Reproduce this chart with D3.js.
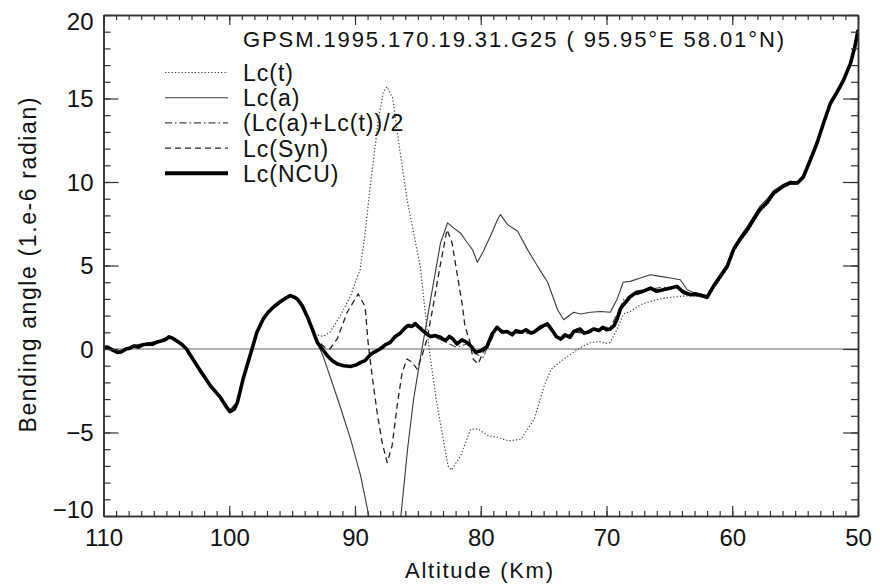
<!DOCTYPE html>
<html><head><meta charset="utf-8">
<script src="https://cdn.jsdelivr.net/npm/d3@7"></script>
<style>
body{margin:0;background:#fff}
text{font-family:"Liberation Sans",Arial,Helvetica,sans-serif;fill:#111}
</style>
</head><body>
<svg id="chart" width="880" height="586"></svg>
<script>
// ---------------- data ----------------
const xTicks = [110, 100, 90, 80, 70, 60, 50];
const yTicks = [-10, -5, 0, 5, 10, 15, 20];
const seriesNames = ["Lc(t)", "Lc(a)", "(Lc(a)+Lc(t))/2", "Lc(Syn)", "Lc(NCU)"];
const titleText = "GPSM.1995.170.19.31.G25 ( 95.95\u00B0E 58.01\u00B0N)";

// [altitude km, bending angle 1e-6 rad]
const lcT = [[110,0.05],[109.3,-0.1],[108.9,-0.25],[108.2,-0.05],[107.6,0.12],[106.5,0.25],[105.5,0.4],[104.8,0.75],[104.2,0.45],[103.4,-0.05],[102.9,-0.65],[102.3,-1.35],[101.5,-2.25],[100.7,-2.95],[99.95,-3.8],[99.35,-3.25],[98.9,-1.85],[98.35,-0.45],[97.8,0.95],[97.3,1.75],[96.5,2.45],[96.0,2.75],[95.15,3.15],[94.6,2.95],[93.8,1.9],[93.2,0.9],[92.55,0.75],[92.0,1.0],[91.2,1.95],[90.4,3.1],[89.6,4.75],[89.2,6.9],[88.9,9.0],[88.5,11.5],[88.15,13.7],[87.75,15.4],[87.45,15.7],[87.0,15.0],[86.55,12.5],[85.85,8.9],[84.8,4.9],[84.1,0.0],[83.55,-3.0],[82.6,-7.0],[82.35,-7.25],[81.6,-6.4],[80.8,-4.8],[80.2,-4.8],[79.4,-5.2],[78.6,-5.3],[77.8,-5.5],[76.8,-5.4],[75.75,-4.2],[74.95,-2.2],[74.4,-1.2],[73.4,-0.6],[72.25,0.0],[71.8,0.2],[71.2,0.4],[70.5,0.45],[70.0,0.35],[69.7,0.4],[69.15,1.2],[68.65,2.1],[68.1,2.25],[67.3,2.65],[66.5,2.85],[65.7,3.0],[64.9,3.1],[64.1,3.15],[63.3,3.2],[62.5,3.15],[62.0,3.0],[61.5,3.6],[60.95,4.2],[60.4,4.8],[59.9,5.8],[59.4,6.4],[58.8,7.0],[58.3,7.6],[57.8,8.2],[57.2,8.65],[56.7,9.2],[55.95,9.65],[55.4,9.85],[54.8,9.9],[54.35,10.2],[53.8,11.2],[53.25,12.25],[52.75,13.4],[52.2,14.6],[51.65,15.3],[51.15,16.0],[50.6,17.0],[50.0,19.0]];

const lcA = [[110,0.15],[109.3,0.0],[108.9,-0.15],[108.2,0.05],[107.6,0.22],[106.5,0.35],[105.5,0.5],[104.8,0.8],[104.2,0.55],[103.4,0.05],[102.9,-0.55],[102.3,-1.25],[101.5,-2.15],[100.7,-2.85],[99.95,-3.65],[99.35,-3.15],[98.9,-1.75],[98.35,-0.35],[97.8,1.05],[97.3,1.85],[96.5,2.55],[96.0,2.85],[95.15,3.25],[94.6,3.05],[93.8,2.0],[93.2,0.7],[92.55,-0.4],[92.0,-1.6],[91.2,-3.4],[90.35,-5.4],[89.55,-7.6],[88.9,-10.0],[88.3,-12.0],[87.7,-13.0],[87.0,-12.0],[86.35,-10.0],[85.82,-6.0],[85.34,-3.0],[84.77,-0.4],[84.22,1.95],[83.75,4.0],[83.2,6.35],[82.64,7.55],[82.17,7.25],[81.62,6.95],[81.05,6.35],[80.66,5.95],[80.27,5.2],[79.79,5.85],[79.24,6.75],[78.66,7.75],[78.43,8.05],[77.87,7.45],[77.07,7.05],[76.28,5.95],[75.48,4.95],[74.68,4.0],[73.89,2.35],[73.41,1.75],[72.61,2.2],[72.06,2.1],[71.27,2.2],[70.48,2.25],[69.7,2.2],[69.15,3.0],[68.67,4.0],[68.11,4.05],[67.32,4.25],[66.52,4.45],[65.72,4.35],[64.93,4.25],[64.13,4.15],[63.58,3.55],[63.0,3.35],[62.5,3.3],[62.0,3.2],[61.5,3.85],[60.95,4.45],[60.4,5.1],[59.9,6.1],[59.4,6.7],[58.8,7.35],[58.3,7.95],[57.8,8.55],[57.2,9.0],[56.7,9.5],[55.95,9.85],[55.4,10.05],[54.8,10.0],[54.35,10.4],[53.8,11.4],[53.25,12.45],[52.75,13.6],[52.2,14.8],[51.65,15.5],[51.15,16.2],[50.6,17.2],[50.0,19.2]];

const lcAvg = [[110,0.1],[109.3,-0.05],[108.9,-0.2],[108.2,0.0],[107.6,0.17],[106.5,0.3],[105.5,0.45],[104.8,0.75],[104.2,0.5],[103.4,0.0],[102.9,-0.6],[102.3,-1.3],[101.5,-2.2],[100.7,-2.9],[99.95,-3.72],[99.35,-3.2],[98.9,-1.8],[98.35,-0.4],[97.8,1.0],[97.3,1.8],[96.5,2.5],[96.0,2.8],[95.15,3.2],[94.6,3.0],[93.8,1.95],[93.0,0.4],[92.2,-0.45],[91.4,-0.85],[90.35,-1.1],[89.55,-0.85],[88.8,-0.4],[88.0,-0.05],[87.2,0.35],[86.4,0.9],[85.8,1.45],[85.2,1.6],[84.55,1.2],[84.0,0.8],[83.2,0.55],[82.5,0.3],[81.9,0.1],[81.1,0.3],[80.4,-0.3],[79.8,-0.5],[79.5,0.05],[78.7,1.2],[77.9,0.95],[76.8,0.95],[75.8,0.95],[74.7,1.45],[73.65,0.55],[72.6,1.0],[71.5,1.05],[70.3,1.3],[69.7,1.3],[69.15,2.1],[68.65,2.95],[68.1,3.2],[67.1,3.5],[66.5,3.6],[65.5,3.7],[64.4,3.7],[63.3,3.3],[62.5,3.2],[62.0,3.1],[61.5,3.75],[60.95,4.35],[60.4,4.95],[59.9,5.95],[59.4,6.55],[58.8,7.2],[58.3,7.8],[57.8,8.4],[57.2,8.85],[56.7,9.35],[55.95,9.75],[55.4,9.95],[54.8,9.95],[54.35,10.3],[53.8,11.3],[53.25,12.35],[52.75,13.5],[52.2,14.7],[51.65,15.4],[51.15,16.1],[50.6,17.1],[50.0,19.1]];

const lcSyn = [[110,0.1],[109.3,-0.05],[108.9,-0.2],[108.2,0.0],[107.6,0.17],[106.5,0.3],[105.5,0.45],[104.8,0.7],[104.2,0.5],[103.4,0.0],[102.9,-0.6],[102.3,-1.3],[101.5,-2.2],[100.7,-2.9],[99.95,-3.72],[99.35,-3.2],[98.9,-1.8],[98.35,-0.4],[97.8,1.0],[97.3,1.8],[96.5,2.5],[96.0,2.8],[95.15,3.2],[94.6,3.0],[93.8,1.95],[93.0,0.5],[92.4,0.1],[92.0,0.0],[91.42,0.6],[90.62,2.2],[89.75,3.3],[89.2,2.55],[88.96,0.4],[88.64,-1.6],[88.24,-3.8],[87.84,-5.6],[87.44,-6.8],[87.05,-5.8],[86.65,-3.4],[86.25,-1.4],[85.86,-0.6],[85.46,-0.8],[85.06,-1.2],[84.67,-0.4],[84.27,0.6],[83.79,2.55],[83.24,4.95],[82.68,7.15],[82.28,6.35],[81.89,4.55],[81.49,2.75],[81.25,1.35],[80.85,0.4],[80.61,-0.6],[80.21,-0.9],[79.82,-0.2],[79.5,0.1],[79.1,0.85],[78.7,1.25],[77.9,1.0],[76.8,0.95],[75.8,0.95],[74.7,1.45],[73.65,0.55],[72.6,1.0],[71.5,0.95],[70.3,1.25],[69.7,1.15],[69.15,1.75],[68.65,2.6],[68.1,3.1],[67.1,3.4],[66.5,3.6],[65.5,3.5],[64.4,3.7],[63.3,3.2],[62.5,3.15],[62.0,3.05],[61.5,3.7],[60.95,4.3],[60.4,4.9],[59.9,5.9],[59.4,6.5],[58.8,7.1],[58.3,7.7],[57.8,8.3],[57.2,8.75],[56.7,9.3],[55.95,9.7],[55.4,9.9],[54.8,9.9],[54.35,10.25],[53.8,11.25],[53.25,12.3],[52.75,13.45],[52.2,14.65],[51.65,15.35],[51.15,16.05],[50.6,17.05],[50.0,19.05]];

const lcNCU = [[110,0.1],[109.7,0.12],[109.3,-0.05],[108.9,-0.2],[108.6,-0.18],[108.2,0.0],[107.9,0.05],[107.6,0.18],[107.2,0.12],[106.9,0.25],[106.5,0.3],[106.1,0.28],[105.8,0.4],[105.5,0.46],[105.1,0.55],[104.8,0.72],[104.5,0.65],[104.2,0.5],[103.8,0.3],[103.4,0.0],[102.9,-0.6],[102.3,-1.3],[101.5,-2.2],[100.7,-2.9],[100.2,-3.5],[99.95,-3.75],[99.6,-3.6],[99.35,-3.2],[98.9,-1.8],[98.35,-0.4],[97.8,1.0],[97.3,1.8],[96.9,2.2],[96.5,2.5],[96.0,2.8],[95.5,3.05],[95.15,3.2],[94.8,3.1],[94.6,3.0],[94.2,2.6],[93.8,1.95],[93.4,1.2],[93.0,0.4],[92.6,0.0],[92.2,-0.4],[91.8,-0.7],[91.4,-0.9],[90.9,-1.0],[90.35,-1.05],[89.9,-0.95],[89.55,-0.8],[89.2,-0.7],[88.8,-0.35],[88.5,-0.2],[88.0,0.0],[87.6,0.25],[87.2,0.4],[86.8,0.75],[86.4,0.95],[86.1,1.2],[85.8,1.4],[85.5,1.35],[85.2,1.5],[84.9,1.3],[84.55,1.05],[84.3,0.9],[84.0,0.75],[83.6,0.8],[83.2,0.7],[82.8,0.5],[82.5,0.75],[82.2,0.6],[81.9,0.3],[81.5,0.55],[81.1,0.4],[80.7,0.1],[80.4,-0.2],[80.0,-0.1],[79.5,0.15],[79.1,0.9],[78.7,1.3],[78.3,1.0],[77.9,1.05],[77.5,0.85],[77.2,1.1],[76.8,1.0],[76.4,1.15],[76.0,0.95],[75.8,1.0],[75.3,1.3],[74.7,1.5],[74.3,1.1],[74.0,0.75],[73.65,0.6],[73.3,0.85],[72.9,0.7],[72.6,1.05],[72.1,1.2],[71.8,0.95],[71.5,1.0],[71.0,1.2],[70.6,1.1],[70.3,1.3],[70.0,1.15],[69.7,1.2],[69.4,1.4],[69.15,1.8],[68.9,2.4],[68.65,2.65],[68.1,3.15],[67.6,3.4],[67.1,3.45],[66.5,3.65],[66.0,3.45],[65.5,3.55],[64.9,3.65],[64.4,3.75],[63.9,3.4],[63.3,3.25],[62.9,3.3],[62.5,3.2],[62.0,3.1],[61.5,3.75],[60.95,4.35],[60.4,4.95],[59.9,5.95],[59.4,6.55],[58.8,7.15],[58.3,7.75],[57.8,8.35],[57.2,8.8],[56.7,9.35],[55.95,9.75],[55.4,9.95],[54.8,9.95],[54.35,10.3],[53.8,11.3],[53.25,12.35],[52.75,13.5],[52.2,14.7],[51.65,15.4],[51.15,16.1],[50.6,17.1],[50.25,18.1],[50.0,19.1]];

// ---------------- drawing ----------------
const svg = d3.select("#chart");
const L = 103.5, R = 858, T = 15, B = 516;
const x = d3.scaleLinear().domain([110, 50]).range([L, R]);
const y = d3.scaleLinear().domain([-10, 20]).range([B, T]);
const axisColor = "#333";

svg.append("defs").append("clipPath").attr("id", "clip")
  .append("rect").attr("x", L).attr("y", T).attr("width", R - L).attr("height", B - T);

// zero line
svg.append("line").attr("x1", L).attr("x2", R).attr("y1", y(0)).attr("y2", y(0))
  .attr("stroke", "#999").attr("stroke-width", 1.6);

const line = d3.line().x(d => x(d[0])).y(d => y(d[1]));
const styles = [
  {data: lcT,   color: "#444", width: 1.2, dash: "1.3,2"},
  {data: lcA,   color: "#3a3a3a", width: 1.1, dash: null},
  {data: lcAvg, color: "#444", width: 1.1, dash: "7,3,1.5,3"},
  {data: lcSyn, color: "#222", width: 1.3, dash: "6,4"},
  {data: lcNCU, color: "#000", width: 3.6, dash: null}
];
const g = svg.append("g").attr("clip-path", "url(#clip)");
styles.forEach(s => {
  g.append("path").datum(s.data).attr("d", line)
    .attr("fill", "none").attr("stroke", s.color).attr("stroke-width", s.width)
    .attr("stroke-linejoin", "round")
    .attr("stroke-dasharray", s.dash);
});

// axes
function styleAxis(sel) {
  sel.selectAll(".domain").attr("stroke", axisColor).attr("stroke-width", 1.5);
  sel.selectAll(".tick line").attr("stroke", axisColor).attr("stroke-width", 1.2);
}
const minorX = d3.range(50, 111, 1);
const minorY = d3.range(-10, 21, 1);

const gb = svg.append("g").attr("transform", `translate(0,${B})`)
  .call(d3.axisBottom(x).tickValues(xTicks).tickSize(-10).tickSizeOuter(0).tickPadding(13).tickFormat(d3.format("d")));
gb.selectAll("text").attr("font-size", 24).attr("fill", "#111");
styleAxis(gb);
const gbm = svg.append("g").attr("transform", `translate(0,${B})`)
  .call(d3.axisBottom(x).tickValues(minorX).tickSize(-5).tickSizeOuter(0).tickFormat(""));
styleAxis(gbm);

const gt = svg.append("g").attr("transform", `translate(0,${T})`)
  .call(d3.axisTop(x).tickValues(xTicks).tickSize(-10).tickSizeOuter(0).tickFormat(""));
styleAxis(gt);
const gtm = svg.append("g").attr("transform", `translate(0,${T})`)
  .call(d3.axisTop(x).tickValues(minorX).tickSize(-5).tickSizeOuter(0).tickFormat(""));
styleAxis(gtm);

const gl = svg.append("g").attr("transform", `translate(${L},0)`)
  .call(d3.axisLeft(y).tickValues(yTicks).tickSize(-15).tickSizeOuter(0).tickPadding(10).tickFormat(d3.format("d")));
gl.selectAll("text").attr("font-size", 24).attr("fill", "#111")
  .attr("dy", d => d === 20 ? "0.6em" : d === -10 ? "0.07em" : "0.35em");
styleAxis(gl);
const glm = svg.append("g").attr("transform", `translate(${L},0)`)
  .call(d3.axisLeft(y).tickValues(minorY).tickSize(-7).tickSizeOuter(0).tickFormat(""));
styleAxis(glm);

const gr = svg.append("g").attr("transform", `translate(${R},0)`)
  .call(d3.axisRight(y).tickValues(yTicks).tickSize(-15).tickSizeOuter(0).tickFormat(""));
styleAxis(gr);
const grm = svg.append("g").attr("transform", `translate(${R},0)`)
  .call(d3.axisRight(y).tickValues(minorY).tickSize(-7).tickSizeOuter(0).tickFormat(""));
styleAxis(grm);

// axis titles
svg.append("text").attr("x", 479).attr("y", 578).attr("text-anchor", "middle")
  .attr("font-size", 22).attr("textLength", 148).attr("lengthAdjust", "spacing")
  .text("Altitude (Km)");
svg.append("text").attr("transform", "translate(36,265) rotate(-90)").attr("text-anchor", "middle")
  .attr("font-size", 23).attr("textLength", 335).attr("lengthAdjust", "spacing")
  .text("Bending angle (1.e-6 radian)");

// title
svg.append("text").attr("x", 243).attr("y", 47).attr("font-size", 22)
  .attr("textLength", 541).attr("lengthAdjust", "spacing").text(titleText);

// legend
seriesNames.forEach((name, i) => {
  const ly = 72.5 + i * 25.2;
  const s = styles[i];
  svg.append("line").attr("x1", 165).attr("x2", 228).attr("y1", ly).attr("y2", ly)
    .attr("stroke", s.color).attr("stroke-width", i === 4 ? 4 : s.width)
    .attr("stroke-dasharray", s.dash);
  svg.append("text").attr("x", 243).attr("y", ly + 8.5).attr("font-size", 23)
    .attr("letter-spacing", 1).text(name);
});
</script>
</body></html>
